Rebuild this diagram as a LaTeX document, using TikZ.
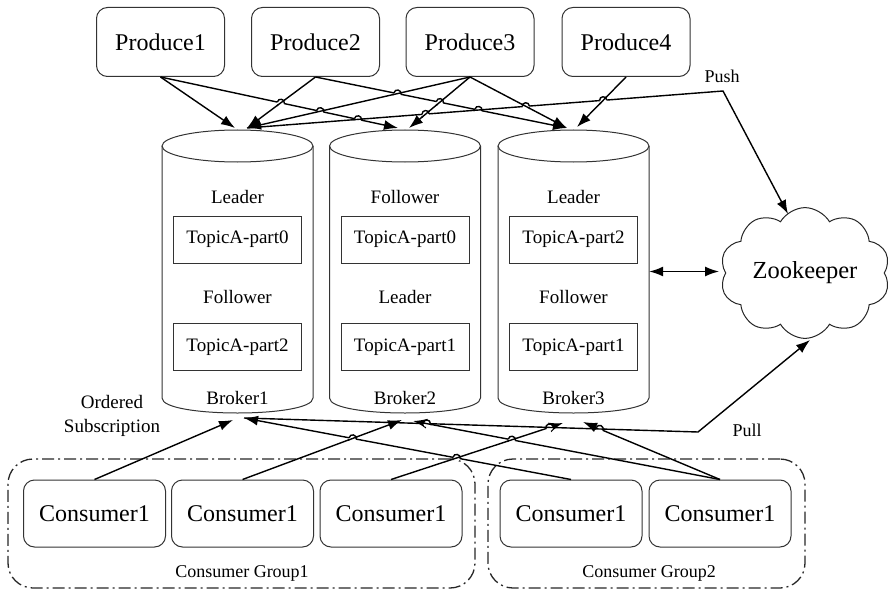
\documentclass[tikz,border=0pt]{standalone}
\usepackage{fontspec}
\setmainfont{Liberation Serif}
\usetikzlibrary{arrows.meta,shapes.symbols,calc}
\tikzset{
 box/.style={draw=black!80, line width=1pt, rounded corners=11pt, minimum width=128pt, minimum height=69pt, font=\fontsize{24}{28}\selectfont, inner sep=0pt},
 cbox/.style={box, minimum width=142pt, minimum height=67pt},
 tbox/.style={draw=black!80, line width=1pt, minimum width=128pt, minimum height=47pt, font=\fontsize{19}{22}\selectfont, inner sep=0pt},
 lbl/.style={font=\fontsize{19}{22}\selectfont, inner sep=0pt},
 small/.style={font=\fontsize{18}{24}\selectfont, inner sep=0pt, align=center},
 cyl/.style={draw=black!80, line width=1pt},
 conn/.style={line width=1.4pt, black},
 arr/.style={conn, -{Latex[length=14pt,width=10pt]}},
 grp/.style={draw=black!85, line width=1.3pt, rounded corners=25pt, dash pattern=on 12pt off 4pt on 2pt off 4pt, minimum width=467pt, minimum height=129pt},
}
\newcommand{\hopover}[4]{%
 \coordinate (hx) at (intersection of #1--#2 and #3--#4);
 \fill[white] (hx) circle (3.6pt);
 \draw[conn] ($(hx)!5pt!(#3)$) -- ($(hx)!5pt!(#4)$);
 \draw[conn] ($(hx)!3.6pt!(#1)$) to[bend left=90, looseness=1.7] ($(hx)!3.6pt!(#2)$);
}
\newcommand{\kcyl}[2]{%
 \node[minimum width=151pt, minimum height=283pt, inner sep=0pt] (#1) at (#2,271.5) {};
 \draw[cyl] (#2,146) ellipse [x radius=75.5pt, y radius=16pt];
 \draw[cyl] (#2-75.5,146) -- (#2-75.5,398) .. controls (#2-75.5,418) and (#2+75.5,418) .. (#2+75.5,398) -- (#2+75.5,146);
}
\begin{document}
\begin{tikzpicture}[x=1pt,y=-1pt]
\useasboundingbox (0,0) rectangle (891,591);

% producers
\node[box] (p1) at (160.5,42) {Produce1};
\node[box] (p2) at (315.5,42) {Produce2};
\node[box] (p3) at (470,42) {Produce3};
\node[box] (p4) at (626,42) {Produce4};

% brokers
\kcyl{b1}{237.5}
\kcyl{b2}{405}
\kcyl{b3}{573.5}

\node[lbl] (b1r1) at (237.5,197) {Leader};
\node[tbox] (b1x1) at (237.5,239.5) {TopicA-part0};
\node[lbl] (b1r2) at (237.5,297) {Follower};
\node[tbox] (b1x2) at (237.5,347) {TopicA-part2};
\node[lbl] (b1n) at (237.5,398) {Broker1};

\node[lbl] (b2r1) at (405,197) {Follower};
\node[tbox] (b2x1) at (405,239.5) {TopicA-part0};
\node[lbl] (b2r2) at (405,297) {Leader};
\node[tbox] (b2x2) at (405,347) {TopicA-part1};
\node[lbl] (b2n) at (405,398) {Broker2};

\node[lbl] (b3r1) at (573.5,197) {Leader};
\node[tbox] (b3x1) at (573.5,239.5) {TopicA-part2};
\node[lbl] (b3r2) at (573.5,297) {Follower};
\node[tbox] (b3x2) at (573.5,347) {TopicA-part1};
\node[lbl] (b3n) at (573.5,398) {Broker3};

% zookeeper
\node[cloud, draw=black!85, line width=1pt, cloud puffs=10, cloud puff arc=120, aspect=1.35, minimum width=170pt, minimum height=127pt, inner sep=0pt, font=\fontsize{24.5}{28}\selectfont] (zk) at (805,273) {Zookeeper};

% consumers
\node[cbox] (c1) at (94.5,513.5) {Consumer1};
\node[cbox] (c2) at (242.5,513.5) {Consumer1};
\node[cbox] (c3) at (391,513.5) {Consumer1};
\node[cbox] (c4) at (571,513.5) {Consumer1};
\node[cbox] (c5) at (720,513.5) {Consumer1};

\node[grp] (g1) at (241.5,523.5) {};
\node[grp, minimum width=317pt] (g2) at (646.5,523.5) {};
\node[small] (g1l) at (242,573) {Consumer Group1};
\node[small] (g2l) at (649,573) {Consumer Group2};

% labels
\node[small] (pushl) at (722,76) {Push};
\node[small] (pulll) at (747,430) {Pull};
\node[small, font=\fontsize{19}{24}\selectfont] (ordl) at (112,416) {Ordered\\Subscription};

% coordinates
\coordinate (p1s) at (p1.south);
\coordinate (p2s) at (p2.south);
\coordinate (p3s) at (p3.south);
\coordinate (p4s) at (p4.south);
\coordinate (b1t1) at (235,128);
\coordinate (b1t2) at (247,128);
\coordinate (b2t1) at (398,128);
\coordinate (b2t2) at (409,128);
\coordinate (b3t1) at (567,128);
\coordinate (b3t2) at (577,127);
\coordinate (b1b1) at (233,420);
\coordinate (b1b2) at (244,418);
\coordinate (b2b1) at (402,420);
\coordinate (b2b2) at (413,421);
\coordinate (b3b1) at (563,423);
\coordinate (b3b2) at (583,422);
\coordinate (c1n) at (c1.north);
\coordinate (c2n) at (c2.north);
\coordinate (c3n) at (c3.north);
\coordinate (c4n) at (c4.north);
\coordinate (c5n) at (c5.north);
\coordinate (pushc) at (723,91);
\coordinate (pullc) at (698,432);
\coordinate (zkt) at (788,214);
\coordinate (zkb) at (810,340);
\coordinate (zkw) at (719,271.5);

% producer connectors
\draw[arr] (p1s) -- (b1t1);
\draw[arr] (p1s) -- (b2t1);
\draw[arr] (p2s) -- (b1t2);
\draw[arr] (p2s) -- (b3t1);
\draw[arr] (p3s) -- (b1t2);
\draw[arr] (p3s) -- (b2t2);
\draw[arr] (p3s) -- (b3t1);
\draw[arr] (p4s) -- (b3t2);
\draw[arr] (b1t2) -- (pushc) -- (zkt);

% consumer connectors
\draw[arr] (c1n) -- (b1b1);
\draw[arr] (c2n) -- (b2b1);
\draw[arr] (c3n) -- (b3b1);
\draw[arr] (c4n) -- (b1b2);
\draw[arr] (c5n) -- (b2b2);
\draw[arr] (c5n) -- (b3b2);
\draw[arr] (b1b2) -- (pullc) -- (zkb);

% broker3 <-> zookeeper
\draw[conn, {Latex[length=14pt,width=10pt]}-{Latex[length=14pt,width=10pt]}] (b3.east) -- (zkw);

% line hops
\hopover{p1s}{b2t1}{p2s}{b1t2}
\hopover{p1s}{b2t1}{p3s}{b1t2}
\hopover{p1s}{b2t1}{b1t2}{pushc}
\hopover{p2s}{b3t1}{p3s}{b1t2}
\hopover{p2s}{b3t1}{p3s}{b2t2}
\hopover{p2s}{b3t1}{b1t2}{pushc}
\hopover{b1t2}{pushc}{p3s}{b2t2}
\hopover{b1t2}{pushc}{p3s}{b3t1}
\hopover{b1t2}{pushc}{p4s}{b3t2}

\hopover{b1b2}{c4n}{c2n}{b2b1}
\hopover{b1b2}{c4n}{c3n}{b3b1}
\hopover{b2b2}{c5n}{c3n}{b3b1}
\hopover{c3n}{b3b1}{b1b2}{pullc}
\hopover{b3b2}{c5n}{b1b2}{pullc}
\hopover{b1b2}{pullc}{b2b2}{c5n}
\end{tikzpicture}
\end{document}
